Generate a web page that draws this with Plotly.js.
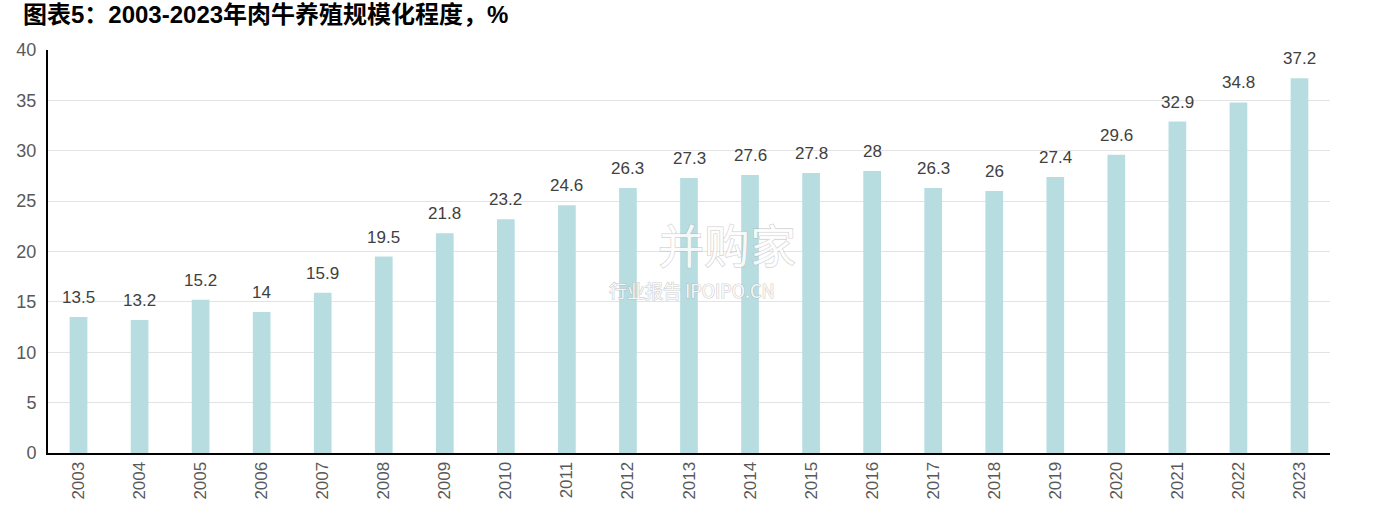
<!DOCTYPE html>
<html>
<head>
<meta charset="utf-8">
<script src="https://cdn.plot.ly/plotly-3.0.1.min.js"></script>
<style>
html,body{margin:0;padding:0;background:#fff;}
#chart{width:1385px;height:510px;}
.wm text{paint-order:stroke;stroke:rgba(170,170,170,0.55);stroke-width:1.2px;}
</style>
</head>
<body>
<div id="chart"></div>
<script>
const years = ['2003','2004','2005','2006','2007','2008','2009','2010','2011','2012','2013','2014','2015','2016','2017','2018','2019','2020','2021','2022','2023'];
const values = [13.5,13.2,15.2,14,15.9,19.5,21.8,23.2,24.6,26.3,27.3,27.6,27.8,28,26.3,26,27.4,29.6,32.9,34.8,37.2];
const yTicks = [0,5,10,15,20,25,30,35,40];
const titleText = '图表5：2003-2023年肉牛养殖规模化程度，%';
const watermarkMain = '并购家';
const watermarkSub = '行业报告 IPOIPO.CN';

const trace = {
  type:'bar',
  x: years,
  y: values,
  marker:{color:'#b7dde1'},
  width:0.29,
  hoverinfo:'none'
};

const labelFont = {family:'Liberation Sans, Arial, sans-serif', size:17, color:'#404040'};
const valueLabels = years.map((yr,i)=>({
  x: i, y: values[i], xref:'x', yref:'y', text:String(values[i]), showarrow:false,
  yanchor:'bottom', yshift:8, font:labelFont
}));

const layout = {
  width:1385, height:510,
  margin:{l:48, r:55, t:50, b:57, pad:0},
  paper_bgcolor:'#fff', plot_bgcolor:'#fff',
  showlegend:false,
  title:{text:'<b>'+titleText+'</b>', x:0.0166, xanchor:'left', y:0.972, yanchor:'middle',
    font:{family:'Liberation Sans, Noto Sans CJK SC, sans-serif', size:24, color:'#000'}},
  xaxis:{type:'category', range:[-0.5, years.length-0.5], showline:true, linecolor:'#000', linewidth:2, tickangle:-90, ticks:'',
    tickfont:{family:'Liberation Sans, Arial, sans-serif', size:17, color:'#595959'}, showgrid:false, zeroline:false, fixedrange:true},
  yaxis:{range:[0,40], tickvals:yTicks, ticktext:yTicks.map(String), showline:true, linecolor:'#000', linewidth:2, ticks:'',
    showgrid:true, gridcolor:'#e3e3e3', gridwidth:1, zeroline:false,
    tickfont:{family:'Liberation Sans, Arial, sans-serif', size:18, color:'#595959'}, ticklabelstandoff:6, fixedrange:true},
  annotations:[
    {xref:'paper', yref:'paper', x:0.53, y:0.52, text:watermarkMain, showarrow:false,
      font:{family:'Noto Sans CJK SC, sans-serif', size:46, color:'rgba(255,255,255,0.85)'}},
    {xref:'paper', yref:'paper', x:0.502, y:0.405, text:watermarkSub, showarrow:false,
      font:{family:'Noto Sans CJK SC, sans-serif', size:18, color:'rgba(255,255,255,0.85)'}}
  ].concat(valueLabels)
};

Plotly.newPlot('chart',[trace],layout,{displayModeBar:false, staticPlot:true}).then(()=>{
  const anns = document.querySelectorAll('.annotation');
  if (anns[0]) anns[0].classList.add('wm');
  if (anns[1]) anns[1].classList.add('wm');
});
</script>
</body>
</html>
